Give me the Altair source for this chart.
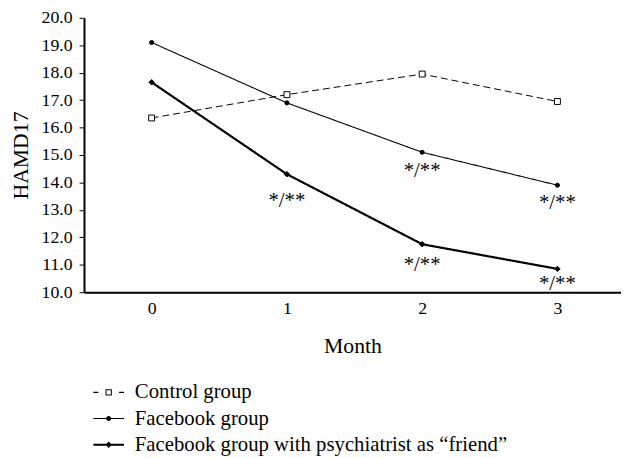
import altair as alt
import pandas as pd

months = [0, 1, 2, 3]
groups = ["Control group", "Facebook group", "Facebook group with psychiatrist as \u201cfriend\u201d"]
control = [16.35, 17.2, 17.95, 16.95]
facebook = [19.1, 16.9, 15.1, 13.9]
friend = [17.65, 14.3, 11.75, 10.85]

ann_month = [1, 2, 2, 3, 3]
ann_level = [13.32, 14.4, 10.98, 13.25, 10.28]
ann_dx = [-11, 0, 0, -3, -3]
ann_text = ["*/**"] * 5

rows = []
for g, vals in zip(groups, [control, facebook, friend]):
    for m, v in zip(months, vals):
        rows.append({"month": m, "value": v, "group": g})
df = pd.DataFrame(rows)
ann = pd.DataFrame({"month": ann_month, "value": ann_level, "dx": ann_dx, "text": ann_text})

FONT = "Liberation Serif"

x = alt.X("month:Q", scale=alt.Scale(domain=[-0.5, 3.47], nice=False, zero=False),
          axis=alt.Axis(values=months, format="d", ticks=False, domainWidth=2, domainColor="black",
                        labelFontSize=18, labelPadding=8, labelColor="black", labelFont=FONT,
                        title="Month", titleFont=FONT, titleFontSize=22, titleFontWeight="normal",
                        titleColor="black", titleY=54, titleBaseline="middle", grid=False))
y = alt.Y("value:Q", scale=alt.Scale(domain=[10, 20], nice=False, zero=False),
          axis=alt.Axis(values=list(range(10, 21)), format=".1f", tickSize=5, tickWidth=1,
                        tickColor="black", domainWidth=2, domainColor="black",
                        labelFontSize=18, labelPadding=7, labelColor="black", labelFont=FONT,
                        title="HAMD17", titleFont=FONT, titleFontSize=22, titleFontWeight="normal",
                        titleColor="black", titleX=-64, titleY=139, titleBaseline="middle",
                        titleAngle=270, grid=False))

base = alt.Chart(df)

lines = base.mark_line(color="black").encode(
    x=x, y=y, detail="group:N",
    strokeDash=alt.StrokeDash("group:N", scale=alt.Scale(domain=groups, range=[[7, 4], [1, 0], [1, 0]]), legend=None),
    strokeWidth=alt.StrokeWidth("group:N", scale=alt.Scale(type="ordinal", domain=groups, range=[1, 1.1, 2.2]), legend=None),
)

points = base.mark_point(stroke="black", strokeWidth=1, opacity=1).encode(
    x=x, y=y,
    shape=alt.Shape("group:N", scale=alt.Scale(domain=groups, range=["square", "circle", "diamond"]), legend=None),
    fill=alt.Fill("group:N", scale=alt.Scale(domain=groups, range=["white", "black", "black"]), legend=None),
    size=alt.Size("group:N", scale=alt.Scale(type="ordinal", domain=groups, range=[36, 17, 30]), legend=None),
)

texts = alt.Chart(ann).mark_text(font=FONT, fontSize=21, color="black", baseline="middle").encode(
    x=x, y=y, text="text:N", xOffset=alt.XOffset("dx:Q", scale=None)
)

sym_control = ("M-1.55,-0.06H-1.05V0.06H-1.55Z M1.05,-0.06H1.55V0.06H1.05Z "
               "M-0.32,-0.32H0.32V0.32H-0.32Z M-0.22,-0.22V0.22H0.22V-0.22Z")
sym_fb = ("M-1.55,-0.055H1.55V0.055H-1.55Z "
          "M-0.25,0A0.25,0.25 0 1,1 0.25,0A0.25,0.25 0 1,1 -0.25,0Z")
sym_friend = "M-1.55,-0.1H1.55V0.1H-1.55Z M0,-0.32L0.32,0L0,0.32L-0.32,0Z"

legend_layer = base.transform_filter("false").mark_point(filled=True, color="black", opacity=1).encode(
    x=x, y=y,
    shape=alt.Shape("group:N", scale=alt.Scale(domain=groups, range=[sym_control, sym_fb, sym_friend]),
                    legend=alt.Legend(title=None, orient="none", legendX=14.5, legendY=369,
                                      padding=0, rowPadding=4.5, symbolSize=400, symbolStrokeWidth=0,
                                      symbolFillColor="black", symbolOpacity=1, labelOffset=16,
                                      labelFont=FONT, labelFontSize=21, labelColor="black",
                                      labelLimit=600)),
)

chart = alt.layer(lines, points, texts, legend_layer).resolve_scale(
    shape="independent"
).properties(
    width=544, height=278,
    autosize=alt.AutoSizeParams(type="none"),
    padding={"left": 77, "top": 7, "right": 0, "bottom": 165},
).configure(background="white", font=FONT).configure_view(stroke=None)

chart.save("out.html", embed_options={"renderer": "svg", "actions": False})
